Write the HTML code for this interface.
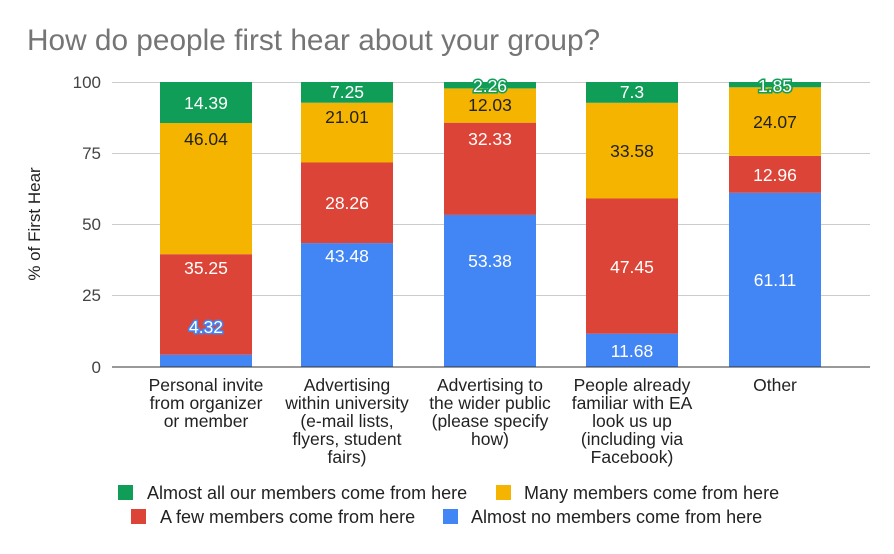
<!DOCTYPE html>
<html><head><meta charset="utf-8"><style>
body{margin:0;background:#fff;}
svg text{font-family:"Liberation Sans",Arial,sans-serif;}
</style></head><body>
<svg width="894" height="549" xmlns="http://www.w3.org/2000/svg">
<rect width="894" height="549" fill="#fff"/>
<text x="27" y="50" font-size="29.8" fill="#757575">How do people first hear about your group?</text>
<g stroke="#ccc" stroke-width="1">
<line x1="112" y1="82.5" x2="870" y2="82.5"/>
<line x1="112" y1="153.5" x2="870" y2="153.5"/>
<line x1="112" y1="224.5" x2="870" y2="224.5"/>
<line x1="112" y1="295.5" x2="870" y2="295.5"/>
</g>
<g font-size="17" fill="#444" text-anchor="end">
<text x="101" y="88">100</text>
<text x="101" y="159">75</text>
<text x="101" y="230">50</text>
<text x="101" y="301">25</text>
<text x="101" y="373">0</text>
</g>
<text transform="translate(40,224) rotate(-90)" font-size="17" fill="#222" text-anchor="middle">% of First Hear</text>
<g>
<rect x="160" y="354.7" width="92" height="12.3" fill="#4285F4"/>
<rect x="160" y="254.2" width="92" height="100.5" fill="#DB4437"/>
<rect x="160" y="123.0" width="92" height="131.2" fill="#F4B400"/>
<rect x="160" y="82" width="92" height="41" fill="#0F9D58"/>
<rect x="301" y="243.1" width="92" height="123.9" fill="#4285F4"/>
<rect x="301" y="162.5" width="92" height="80.6" fill="#DB4437"/>
<rect x="301" y="102.7" width="92" height="59.8" fill="#F4B400"/>
<rect x="301" y="82" width="92" height="20.7" fill="#0F9D58"/>
<rect x="444" y="214.9" width="92" height="152.1" fill="#4285F4"/>
<rect x="444" y="122.7" width="92" height="92.2" fill="#DB4437"/>
<rect x="444" y="88.4" width="92" height="34.3" fill="#F4B400"/>
<rect x="444" y="82" width="92" height="6.4" fill="#0F9D58"/>
<rect x="586" y="333.7" width="92" height="33.3" fill="#4285F4"/>
<rect x="586" y="198.5" width="92" height="135.2" fill="#DB4437"/>
<rect x="586" y="102.8" width="92" height="95.7" fill="#F4B400"/>
<rect x="586" y="82" width="92" height="20.8" fill="#0F9D58"/>
<rect x="729" y="192.8" width="92" height="174.2" fill="#4285F4"/>
<rect x="729" y="155.9" width="92" height="36.9" fill="#DB4437"/>
<rect x="729" y="87.3" width="92" height="68.6" fill="#F4B400"/>
<rect x="729" y="82" width="92" height="5.3" fill="#0F9D58"/>
</g>
<line x1="112" y1="367" x2="870" y2="367" stroke="#333" stroke-width="1"/>
<g font-size="17.5" text-anchor="middle">
<text x="206" y="109" fill="#fff">14.39</text>
<text x="206" y="145" fill="#222">46.04</text>
<text x="206" y="274" fill="#fff">35.25</text>
<text x="206" y="333" fill="#fff" stroke="#4285F4" stroke-width="3" paint-order="stroke">4.32</text>
<text x="347" y="98" fill="#fff">7.25</text>
<text x="347" y="123" fill="#222">21.01</text>
<text x="347" y="209" fill="#fff">28.26</text>
<text x="347" y="262" fill="#fff">43.48</text>
<text x="490" y="92" fill="#fff" stroke="#0F9D58" stroke-width="3" paint-order="stroke">2.26</text>
<text x="490" y="111" fill="#222">12.03</text>
<text x="490" y="145" fill="#fff">32.33</text>
<text x="490" y="267" fill="#fff">53.38</text>
<text x="632" y="98" fill="#fff">7.3</text>
<text x="632" y="157" fill="#222">33.58</text>
<text x="632" y="273" fill="#fff">47.45</text>
<text x="632" y="357" fill="#fff">11.68</text>
<text x="775" y="92" fill="#fff" stroke="#0F9D58" stroke-width="3" paint-order="stroke">1.85</text>
<text x="775" y="128" fill="#222">24.07</text>
<text x="775" y="181" fill="#fff">12.96</text>
<text x="775" y="286" fill="#fff">61.11</text>
</g>
<g font-size="17.5" fill="#222" text-anchor="middle">
<text x="206" y="391">Personal invite</text>
<text x="206" y="409">from organizer</text>
<text x="206" y="427">or member</text>
<text x="347" y="391">Advertising</text>
<text x="347" y="409">within university</text>
<text x="347" y="427">(e-mail lists,</text>
<text x="347" y="445">flyers, student</text>
<text x="347" y="463">fairs)</text>
<text x="490" y="391">Advertising to</text>
<text x="490" y="409">the wider public</text>
<text x="490" y="427">(please specify</text>
<text x="490" y="445">how)</text>
<text x="632" y="391">People already</text>
<text x="632" y="409">familiar with EA</text>
<text x="632" y="427">look us up</text>
<text x="632" y="445">(including via</text>
<text x="632" y="463">Facebook)</text>
<text x="775" y="391">Other</text>
</g>
<g font-size="18" fill="#222">
<rect x="118" y="485" width="15" height="15" fill="#0F9D58"/>
<text x="147" y="499">Almost all our members come from here</text>
<rect x="496" y="485" width="15" height="15" fill="#F4B400"/>
<text x="524" y="499">Many members come from here</text>
<rect x="131" y="509" width="15" height="15" fill="#DB4437"/>
<text x="160" y="523">A few members come from here</text>
<rect x="443" y="509" width="15" height="15" fill="#4285F4"/>
<text x="471" y="523">Almost no members come from here</text>
</g>
</svg>
</body></html>
